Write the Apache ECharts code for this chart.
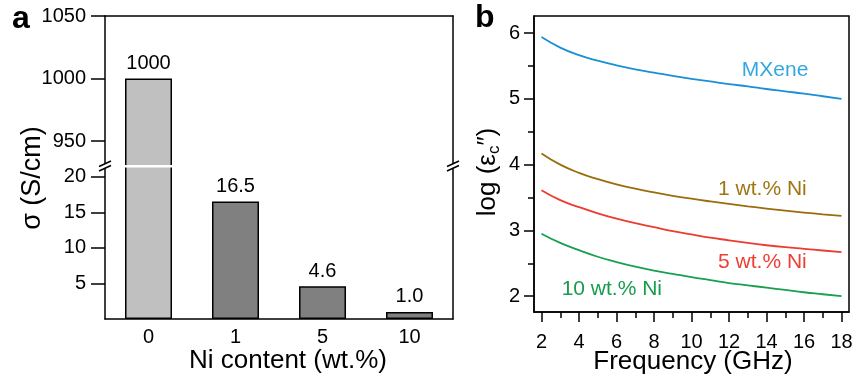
<!DOCTYPE html>
<html>
<head>
<meta charset="utf-8">
<script src="https://cdn.jsdelivr.net/npm/echarts@6/dist/echarts.min.js"></script>
<style>
  html, body { margin: 0; padding: 0; background: #fff; }
  #chart { width: 857px; height: 382px; }
</style>
</head>
<body>
<div id="chart"></div>
<script>
// panel a: conductivity vs Ni content
const niContent = ["0", "1", "5", "10"];
const sigma = [1000, 16.5, 4.6, 1.0];
const sigmaText = ["1000", "16.5", "4.6", "1.0"];
const upperTicks = [950, 1000, 1050];
const lowerTicks = [5, 10, 15, 20];

// panel b: log(eps'') vs frequency
const freq = [2, 3, 4, 5, 6, 7, 8, 9, 10, 11, 12, 13, 14, 15, 16, 17, 18];
const mxene = [5.94, 5.78, 5.665, 5.58, 5.51, 5.45, 5.40, 5.35, 5.305, 5.265, 5.225, 5.19, 5.15, 5.115, 5.08, 5.04, 5.00];
const ni1 = [4.17, 4.00, 3.875, 3.78, 3.70, 3.635, 3.578, 3.527, 3.482, 3.441, 3.403, 3.367, 3.333, 3.301, 3.272, 3.245, 3.22];
const ni5 = [3.61, 3.46, 3.355, 3.26, 3.18, 3.11, 3.05, 2.99, 2.94, 2.89, 2.85, 2.81, 2.775, 2.745, 2.72, 2.695, 2.67];
const ni10 = [2.95, 2.81, 2.70, 2.60, 2.52, 2.45, 2.39, 2.34, 2.29, 2.245, 2.20, 2.165, 2.13, 2.095, 2.06, 2.03, 2.00];
const freqTicks = [2, 4, 6, 8, 10, 12, 14, 16, 18];
const freqMinor = [3, 5, 7, 9, 11, 13, 15, 17];
const logTicks = [2, 3, 4, 5, 6];
const logMinor = [2.5, 3.5, 4.5, 5.5];

const font = '"Liberation Sans", Arial, sans-serif';
const black = "#000";
const upperMin = 930, upperMax = 1050, lowerMax = 21.5;

// a few shared bits
const lineStyle = { color: black, width: 1.5 };
const noSplit = { show: false };
const tickLabel = { color: black, fontSize: 20, fontFamily: font, formatter: (v) => String(v) };

function barColor(p) {
  return p.dataIndex === 0 ? "#c0c0c0" : "#808080";
}

function frameAxis(gridIndex, min, max) {
  // right side of panel a frame, line only
  return {
    type: "value", gridIndex, position: "right", min, max,
    axisLine: { show: true, lineStyle },
    axisTick: { show: false }, axisLabel: { show: false }, splitLine: noSplit,
  };
}

function curve(name, values, color, textColor, at) {
  return {
    name, type: "line", xAxisIndex: 2, yAxisIndex: 4,
    data: freq.map((f, i) => [f, values[i]]),
    showSymbol: false, smooth: 0.5,
    lineStyle: { color, width: 1.8 },
    markPoint: {
      symbol: "circle", symbolSize: 0, silent: true,
      label: { show: true, position: "inside", formatter: name, color: textColor, fontSize: 21, fontFamily: font },
      data: [{ coord: at }],
    },
  };
}

// break mark "//" on a vertical axis line
function breakMark(x, y) {
  return [
    { type: "rect", z: 100, shape: { x: x - 4, y: y - 2.5, width: 8, height: 5 }, style: { fill: "#fff" } },
    { type: "line", z: 101, shape: { x1: x - 6, y1: y + 0.5, x2: x + 6, y2: y - 5 }, style: { stroke: black, lineWidth: 1.5 } },
    { type: "line", z: 101, shape: { x1: x - 6, y1: y + 5, x2: x + 6, y2: y - 0.5 }, style: { stroke: black, lineWidth: 1.5 } },
  ];
}

const chart = echarts.init(document.getElementById("chart"));

const option = {
  animation: false,
  grid: [
    { left: 105, top: 16, width: 348, height: 150 },
    { left: 105, top: 166, width: 348, height: 153 },
    { left: 534, top: 16, width: 315, height: 296, show: true, borderColor: black, borderWidth: 1.5 },
  ],
  xAxis: [
    {
      type: "category", gridIndex: 0, position: "top", data: niContent,
      axisLine: { show: true, lineStyle }, axisTick: { show: false }, axisLabel: { show: false },
    },
    {
      type: "category", gridIndex: 1, position: "bottom", data: niContent,
      axisLine: { show: true, lineStyle }, axisTick: { show: false },
      axisLabel: Object.assign({}, tickLabel, { margin: 8 }),
    },
    {
      type: "value", gridIndex: 2, position: "bottom", min: 1.6, max: 18.4,
      axisLine: { show: true, lineStyle },
      axisTick: { show: true, length: 10, lineStyle, customValues: freqTicks },
      axisLabel: Object.assign({}, tickLabel, { margin: 20, customValues: freqTicks }),
      splitLine: noSplit,
    },
    {
      type: "value", gridIndex: 2, position: "bottom", min: 1.6, max: 18.4,
      axisLine: { show: false },
      axisTick: { show: true, length: 6, lineStyle, customValues: freqMinor },
      axisLabel: { show: false }, splitLine: noSplit,
    },
  ],
  yAxis: [
    {
      type: "value", gridIndex: 0, min: upperMin, max: upperMax,
      axisLine: { show: true, lineStyle },
      axisTick: { show: true, length: 14, lineStyle, customValues: upperTicks },
      axisLabel: Object.assign({}, tickLabel, { margin: 19, customValues: upperTicks }),
      splitLine: noSplit,
    },
    frameAxis(0, upperMin, upperMax),
    {
      type: "value", gridIndex: 1, min: 0, max: lowerMax,
      axisLine: { show: true, lineStyle },
      axisTick: { show: true, length: 14, lineStyle, customValues: lowerTicks },
      axisLabel: Object.assign({}, tickLabel, { margin: 19, customValues: lowerTicks }),
      splitLine: noSplit,
    },
    frameAxis(1, 0, lowerMax),
    {
      type: "value", gridIndex: 2, position: "left", min: 1.76, max: 6.26,
      axisLine: { show: true, lineStyle },
      axisTick: { show: true, length: 10, lineStyle, customValues: logTicks },
      axisLabel: Object.assign({}, tickLabel, { margin: 14, customValues: logTicks }),
      splitLine: noSplit,
    },
    {
      type: "value", gridIndex: 2, position: "left", min: 1.76, max: 6.26,
      axisLine: { show: false },
      axisTick: { show: true, length: 6, lineStyle, customValues: logMinor },
      axisLabel: { show: false }, splitLine: noSplit,
    },
  ],
  series: [
    {
      type: "bar", xAxisIndex: 0, yAxisIndex: 0, barWidth: 47,
      data: sigma.map((v) => (v > upperMin ? v : "-")),
      itemStyle: { color: barColor, borderColor: black, borderWidth: 1.5 },
      label: {
        show: true, position: "top", distance: 5, color: black, fontSize: 20, fontFamily: font,
        formatter: (p) => sigmaText[p.dataIndex],
      },
    },
    {
      type: "bar", xAxisIndex: 1, yAxisIndex: 2, barWidth: 47,
      data: sigma.map((v) => (v > lowerMax ? { value: v, label: { show: false } } : v)),
      itemStyle: { color: barColor, borderColor: black, borderWidth: 1.5 },
      label: {
        show: true, position: "top", distance: 5, color: black, fontSize: 20, fontFamily: font,
        formatter: (p) => sigmaText[p.dataIndex],
      },
    },
    curve("MXene", mxene, "#1b8fd4", "#33a8e0", [14.46, 5.43]),
    curve("1 wt.% Ni", ni1, "#9a6c0c", "#a0740f", [13.78, 3.63]),
    curve("5 wt.% Ni", ni5, "#ec3c31", "#ee3e33", [13.78, 2.51]),
    curve("10 wt.% Ni", ni10, "#17a04f", "#179c4d", [5.75, 2.10]),
  ],
  graphic: [
    // white gap where the broken bar crosses
    { type: "rect", z: 100, shape: { x: 107, y: 165, width: 345, height: 2.5 }, style: { fill: "#fff" } },
    ...breakMark(105, 166),
    ...breakMark(453, 166),
    { type: "text", x: 12, y: 19, style: { text: "a", font: "bold 32px " + font, fill: black, align: "left", verticalAlign: "middle" } },
    { type: "text", x: 475, y: 18, style: { text: "b", font: "bold 32px " + font, fill: black, align: "left", verticalAlign: "middle" } },
    {
      type: "text", x: 33, y: 178, rotation: Math.PI / 2,
      style: { text: "σ (S/cm)", font: "27px " + font, fill: black, align: "center", verticalAlign: "middle" },
    },
    {
      type: "text", x: 288, y: 361,
      style: { text: "Ni content (wt.%)", font: "26px " + font, fill: black, align: "center", verticalAlign: "middle" },
    },
    {
      type: "text", x: 693, y: 362,
      style: { text: "Frequency (GHz)", font: "26px " + font, fill: black, align: "center", verticalAlign: "middle" },
    },
    {
      type: "text", x: 488, y: 172, rotation: Math.PI / 2,
      style: {
        text: "log (ε{s|c}″)", font: "26px " + font, fill: black, align: "center", verticalAlign: "middle",
        rich: { s: { fontSize: 17, fontFamily: font, fill: black, padding: [12, 0, 0, 0] } },
      },
    },
  ],
};

chart.setOption(option);
</script>
</body>
</html>
